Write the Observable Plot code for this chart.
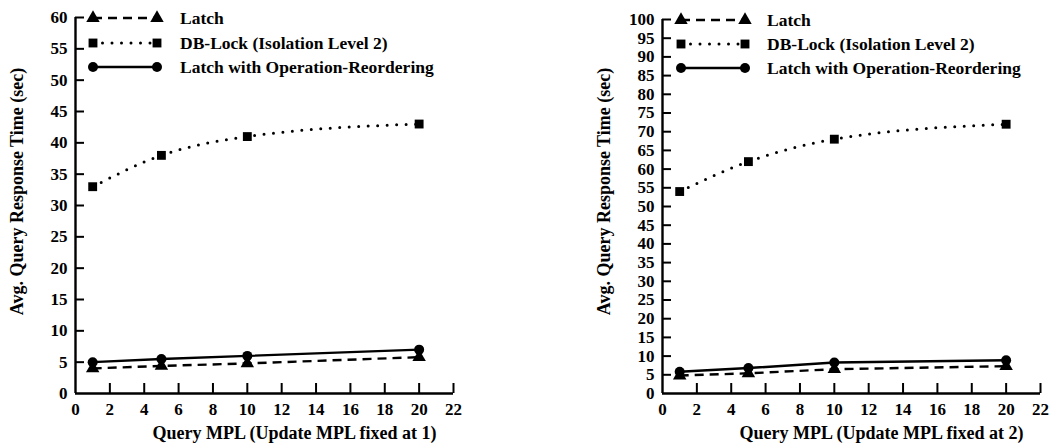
<!DOCTYPE html>
<html><head><meta charset="utf-8">
<script src="https://cdn.jsdelivr.net/npm/d3@7"></script>
<script src="https://cdn.jsdelivr.net/npm/@observablehq/plot@0.6"></script>
<style>
body{margin:0;background:#fff;}
#wrap{display:flex;width:1052px;height:448px;}
.panel{position:relative;width:526px;height:448px;}
.legend{position:absolute;left:0;top:0;pointer-events:none;}
.panel g[aria-label^="x-axis"] text, .panel g[aria-label^="y-axis"] text{font-size:17px !important;font-weight:bold;}
</style></head><body><div id="wrap"></div>
<script>
// ---- data ----
const queryMPL = [1, 5, 10, 20];
const seriesNames = ["Latch", "DB-Lock (Isolation Level 2)", "Latch with Operation-Reordering"];
const xTicks = [0, 2, 4, 6, 8, 10, 12, 14, 16, 18, 20, 22];
const yTicksLeft = d3.range(0, 61, 5);
const yTicksRight = d3.range(0, 101, 5);
// Update MPL fixed at 1
const latchU1 = [4, 4.4, 4.8, 5.8];
const dbLockU1 = [33, 38, 41, 43];
const reorderU1 = [5, 5.5, 6, 7];
// Update MPL fixed at 2
const latchU2 = [4.8, 5.4, 6.5, 7.3];
const dbLockU2 = [54, 62, 68, 72];
const reorderU2 = [5.8, 6.8, 8.3, 8.9];
const yLabel = "Avg. Query Response Time (sec)";
const xLabelLeft = "Query MPL (Update MPL fixed at 1)";
const xLabelRight = "Query MPL (Update MPL fixed at 2)";

// ---- styles ----
const styles = [
  {dash: "9 6", width: 2.4, cap: "butt", symbol: "triangle", curve: "linear"},
  {dash: "0 9.5", width: 3, cap: "round", symbol: "square", curve: "monotone-x"},
  {dash: null, width: 2.4, cap: "butt", symbol: "circle", curve: "linear"}
];
const FONT = "'Liberation Serif', 'Times New Roman', serif";
const R = 5;

function panel(cfg) {
  const W = 526, H = 448, mb = 55;
  const plotH = H - cfg.mt - mb, plotW = W - cfg.ml - cfg.mr;
  const series = cfg.values.map((vals, s) => vals.map((v, i) => ({series: seriesNames[s], x: queryMPL[i], y: v})));
  const marks = [
    Plot.ruleX([0], {strokeWidth: 2.4}),
    Plot.ruleY([0], {strokeWidth: 2.4}),
    Plot.tickX(xTicks.filter(d => d > 0), {x: d => d, insetTop: plotH - 10, strokeWidth: 2}),
    Plot.tickY(cfg.yTicks.filter(d => d > 0), {y: d => d, insetRight: plotW - 9, strokeWidth: 2}),
    Plot.text([yLabel], {frameAnchor: "left", textAnchor: "middle", lineAnchor: "middle", rotate: -90, dx: -58, dy: cfg.labelDy, fontSize: 18, fontWeight: "bold"}),
    Plot.text([cfg.xLabel], {frameAnchor: "bottom", textAnchor: "middle", lineAnchor: "middle", dx: 30, dy: 40, fontSize: 18, fontWeight: "bold"})
  ];
  series.forEach((d, s) => {
    const st = styles[s];
    marks.push(Plot.line(d, {x: "x", y: "y", stroke: "#000", strokeWidth: st.width, strokeDasharray: st.dash, strokeLinecap: st.cap, curve: st.curve}));
    marks.push(Plot.dot(d, {x: "x", y: "y", symbol: () => st.symbol, fill: "#000", r: R}));
  });
  const chart = Plot.plot({
    width: W, height: H,
    marginLeft: cfg.ml, marginRight: cfg.mr, marginTop: cfg.mt, marginBottom: mb,
    style: {fontFamily: FONT, fontWeight: "bold", fontSize: "17px", color: "#000", background: "#fff", overflow: "visible"},
    x: {domain: [0, 22], ticks: xTicks, tickSize: 0, tickPadding: 9, label: null},
    y: {domain: [0, cfg.ymax], ticks: cfg.yTicks, tickSize: 0, tickPadding: 8, label: null},
    symbol: {type: "identity"},
    marks
  });
  const div = document.createElement("div");
  div.className = "panel";
  div.appendChild(chart);
  // legend overlay
  const leg = d3.create("svg").attr("class", "legend").attr("width", W).attr("height", 90)
    .style("font-family", FONT).style("font-weight", "bold").style("font-size", "17.5px");
  seriesNames.forEach((name, s) => {
    const st = styles[s];
    const y = cfg.legRows[s];
    leg.append("line").attr("x1", cfg.legX0).attr("x2", cfg.legX1).attr("y1", y).attr("y2", y)
      .attr("stroke", "#000").attr("stroke-width", st.width).attr("stroke-dasharray", st.dash).attr("stroke-linecap", st.cap);
    const sym = d3.symbol(st.symbol === "triangle" ? d3.symbolTriangle : st.symbol === "square" ? d3.symbolSquare : d3.symbolCircle, Math.PI * R * R)();
    [cfg.legX0, cfg.legX1].forEach(x => leg.append("path").attr("d", sym).attr("transform", `translate(${x},${y})`).attr("fill", "#000"));
    leg.append("text").attr("x", cfg.legText).attr("y", y).attr("dy", "0.35em").text(name);
  });
  div.appendChild(leg.node());
  return div;
}

const wrap = document.getElementById("wrap");
wrap.appendChild(panel({ml: 75, mr: 73, mt: 17, ymax: 60, yTicks: yTicksLeft, labelDy: -14, xLabel: xLabelLeft,
  values: [latchU1, dbLockU1, reorderU1], legRows: [18, 43, 67], legX0: 93, legX1: 157, legText: 180}));
wrap.appendChild(panel({ml: 136, mr: 12, mt: 19, ymax: 100, yTicks: yTicksRight, labelDy: -15, xLabel: xLabelRight,
  values: [latchU2, dbLockU2, reorderU2], legRows: [20, 44, 68], legX0: 155, legX1: 219, legText: 241}));
</script></body></html>
